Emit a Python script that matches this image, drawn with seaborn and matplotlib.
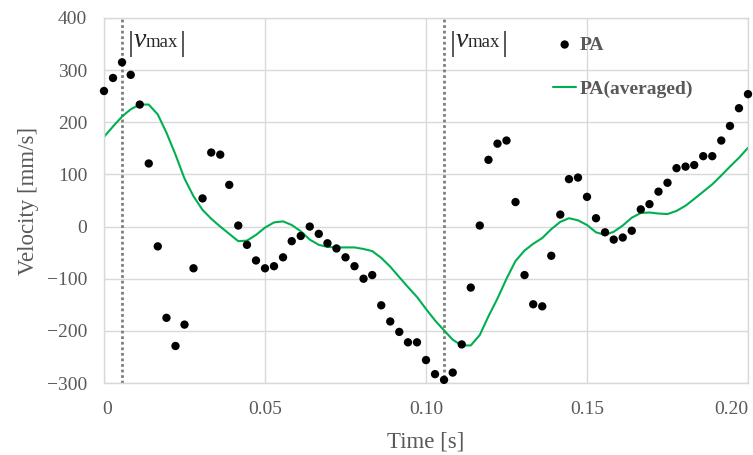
import numpy as np
import pandas as pd
import matplotlib
matplotlib.use("Agg")
import matplotlib.pyplot as plt
import matplotlib.transforms as mtransforms
import seaborn as sns

# ---------------- data ----------------
time_s = [0.0000, 0.0028, 0.0056, 0.0083, 0.0111, 0.0139, 0.0167, 0.0194, 0.0222, 0.0250,
          0.0278, 0.0306, 0.0333, 0.0361, 0.0389, 0.0417, 0.0444, 0.0472, 0.0500, 0.0528,
          0.0556, 0.0583, 0.0611, 0.0639, 0.0667, 0.0694, 0.0722, 0.0750, 0.0778, 0.0806,
          0.0833, 0.0861, 0.0889, 0.0917, 0.0944, 0.0972, 0.1000, 0.1028, 0.1056, 0.1083,
          0.1111, 0.1139, 0.1167, 0.1194, 0.1222, 0.1250, 0.1278, 0.1306, 0.1333, 0.1361,
          0.1389, 0.1417, 0.1444, 0.1472, 0.1500, 0.1528, 0.1556, 0.1583, 0.1611, 0.1639,
          0.1667, 0.1694, 0.1722, 0.1750, 0.1778, 0.1806, 0.1833, 0.1861, 0.1889, 0.1917,
          0.1944, 0.1972, 0.2000]

pa = [260, 285, 315, 291, 234, 121, -38, -175, -229, -188,
      -80, 54, 142, 138, 80, 2, -35, -65, -80, -76,
      -59, -28, -18, 0, -14, -32, -42, -59, -76, -100,
      -93, -151, -182, -202, -222, -222, -256, -283, -294, -280,
      -226, -117, 2, 128, 159, 165, 47, -93, -149, -153,
      -56, 23, 91, 94, 57, 16, -11, -25, -21, -8,
      33, 43, 67, 84, 112, 115, 118, 135, 135, 165,
      193, 227, 254]

pa_avg = [172, 192, 211, 225, 234, 234, 215, 180, 138, 92,
          58, 32, 15, 0, -14, -28, -27, -16, -2, 8,
          10, 3, -9, -25, -35, -39, -40, -40, -40, -43,
          -47, -60, -77, -97, -116, -135, -158, -180, -199, -217,
          -228, -228, -208, -172, -138, -100, -66, -46, -33, -22,
          -5, 9, 16, 12, 3, -11, -16, -10, 2, 17,
          26, 27, 25, 24, 30, 40, 53, 67, 81, 98,
          115, 132, 151]

vmax_times = [0.0056, 0.1056]
x_ticks = [0, 0.05, 0.10, 0.15, 0.20]
x_tick_labels = ["0", "0.05", "0.10", "0.15", "0.20"]
y_ticks = [-300, -200, -100, 0, 100, 200, 300, 400]
y_tick_labels = ["\u2212300", "\u2212200", "\u2212100", "0", "100", "200", "300", "400"]

df = pd.DataFrame({"t": time_s, "PA": pa, "PA_avg": pa_avg})

# ---------------- style ----------------
sns.set_theme(style="white")
plt.rcParams["font.family"] = ["Liberation Serif", "DejaVu Serif"]

GRAY_TXT = "#595959"
GRID = "#d9d9d9"
GREEN = "#00b050"
ANN = "#262626"

fig = plt.figure(figsize=(7.53, 4.55), dpi=100)
ax = fig.add_axes([104 / 753, 1 - 383 / 455, (748 - 104) / 753, (383 - 18) / 455])

ax.set_xlim(0, 0.2)
ax.set_ylim(-300, 400)

# grid
ax.set_xticks(x_ticks)
ax.set_yticks(y_ticks)
ax.grid(True, color=GRID, linewidth=1.0)
ax.set_axisbelow(True)
for s in ax.spines.values():
    s.set_color(GRID)
    s.set_linewidth(1.0)

# vmax lines
for vt in vmax_times:
    ax.axvline(vt, color="#7f7f7f", linestyle=(0, (1, 1)), linewidth=2.0, zorder=1)

sns.lineplot(data=df, x="t", y="PA_avg", ax=ax, color=GREEN, linewidth=1.5,
             label="PA(averaged)", zorder=2)
sns.scatterplot(data=df, x="t", y="PA", ax=ax, color="black", s=36, edgecolor="none",
                label="PA", zorder=3, clip_on=False)

ax.set_xticklabels(x_tick_labels)
ax.set_yticklabels(y_tick_labels)
ax.tick_params(axis="both", which="both", length=0, labelsize=14, labelcolor=GRAY_TXT)
ax.tick_params(axis="x", pad=13)
ax.tick_params(axis="y", pad=12)
lbls = ax.get_xticklabels()
lbls[-1].set_horizontalalignment("right")
shift = mtransforms.ScaledTranslation(3 / 100, 0, fig.dpi_scale_trans)
lbls[0].set_transform(lbls[0].get_transform() + shift)

ax.set_xlabel("Time [s]", fontsize=16.5, color=GRAY_TXT, labelpad=10)
ax.set_ylabel("Velocity [mm/s]", fontsize=16.5, color=GRAY_TXT, labelpad=6)

# |v max| annotations, built from pieces (offsets in pixels from the dotted line)
y_ann = 344  # baseline level in data units
for vt in vmax_times:
    kw = dict(xy=(vt, y_ann), xycoords="data", textcoords="offset pixels",
              color=ANN, va="baseline", ha="left")
    ax.annotate("|", xytext=(6, -4), fontsize=21, **kw)
    ax.annotate("v", xytext=(12, 0), fontsize=20, style="italic", **kw)
    ax.annotate("max", xytext=(24, 0), fontsize=13.5, **kw)
    ax.annotate("|", xytext=(58, -4), fontsize=21, **kw)

# legend
handles, labels = ax.get_legend_handles_labels()
order = [labels.index("PA"), labels.index("PA(averaged)")]
leg = ax.legend([handles[i] for i in order], [labels[i] for i in order],
                loc="upper left", bbox_to_anchor=(553 / 753, 1 - 36 / 455),
                bbox_transform=fig.transFigure, frameon=False,
                prop={"family": "Liberation Serif", "weight": "bold", "size": 14},
                handlelength=1.2, handletextpad=0.15, labelspacing=1.35,
                borderaxespad=0, borderpad=0)
for t in leg.get_texts():
    t.set_color(GRAY_TXT)

fig.savefig("out.png", dpi=100)
